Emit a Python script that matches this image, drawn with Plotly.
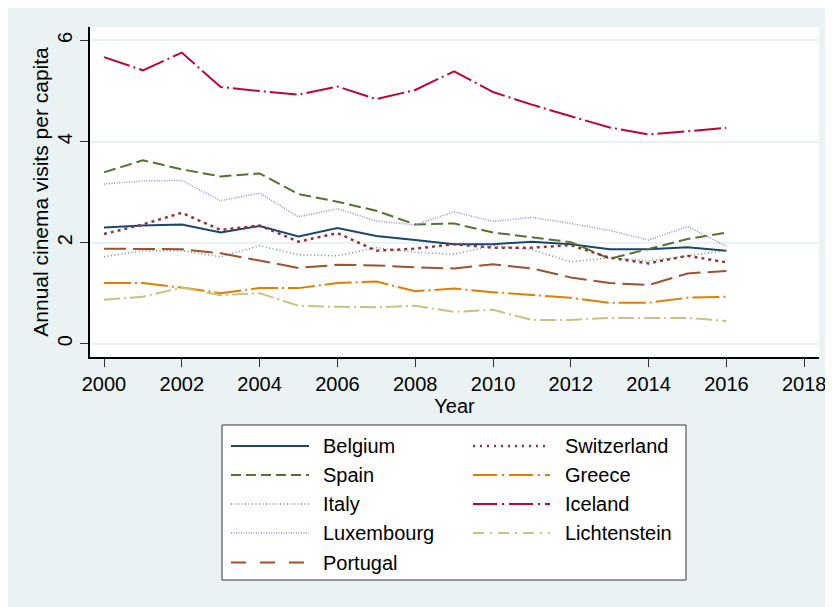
import plotly.graph_objects as go

# ---------------- data ----------------
years = list(range(2000, 2017))

belgium      = [2.30, 2.34, 2.36, 2.20, 2.33, 2.12, 2.29, 2.13, 2.05, 1.97, 1.97, 2.02, 1.97, 1.87, 1.87, 1.91, 1.84]
spain        = [3.39, 3.63, 3.45, 3.31, 3.37, 2.96, 2.81, 2.63, 2.36, 2.38, 2.20, 2.11, 2.01, 1.68, 1.87, 2.07, 2.20]
italy        = [1.72, 1.84, 1.84, 1.72, 1.94, 1.76, 1.74, 1.90, 1.81, 1.77, 1.94, 1.86, 1.62, 1.70, 1.64, 1.74, 1.84]
luxembourg   = [3.16, 3.22, 3.23, 2.83, 2.98, 2.51, 2.67, 2.43, 2.35, 2.61, 2.42, 2.50, 2.38, 2.24, 2.05, 2.32, 1.93]
portugal     = [1.88, 1.88, 1.87, 1.79, 1.64, 1.50, 1.56, 1.55, 1.51, 1.49, 1.57, 1.49, 1.31, 1.20, 1.16, 1.39, 1.44]
switzerland  = [2.17, 2.36, 2.59, 2.25, 2.34, 2.02, 2.19, 1.84, 1.88, 1.97, 1.90, 1.90, 1.95, 1.70, 1.59, 1.74, 1.61]
greece       = [1.20, 1.20, 1.11, 1.00, 1.10, 1.10, 1.20, 1.23, 1.04, 1.09, 1.02, 0.96, 0.91, 0.81, 0.81, 0.91, 0.93]
iceland      = [5.67, 5.41, 5.76, 5.08, 5.00, 4.93, 5.09, 4.84, 5.02, 5.39, 4.98, 4.73, 4.50, 4.28, 4.14, 4.21, 4.27]
lichtenstein = [0.87, 0.93, 1.11, 0.96, 1.00, 0.75, 0.73, 0.72, 0.75, 0.63, 0.67, 0.47, 0.47, 0.51, 0.51, 0.51, 0.45]

countries = ["Belgium", "Spain", "Italy", "Luxembourg", "Portugal",
             "Switzerland", "Greece", "Iceland", "Lichtenstein"]
values = [belgium, spain, italy, luxembourg, portugal,
          switzerland, greece, iceland, lichtenstein]

x_ticks = list(range(2000, 2019, 2))
y_ticks = [0, 2, 4, 6]

# ---------------- styles ----------------
colors = ["#1a476f", "#55752f", "#6e8e84", "#938dd2", "#a0522d",
          "#90353b", "#e37e00", "#c10534", "#cac27e"]
dashes = ["solid", "12px,5px", "1px,2.5px", "1px,1.5px", "22px,7px",
          "3px,4px", "27px,4px,2px,4px", "27px,4px,2px,4px", "16px,4px,2px,4px"]
leg_dashes = ["solid", "10px,5px", "1px,2.5px", "1px,1.5px", "15px,14px",
              "2px,5px", "24px,5px,2px,5px", "24px,5px,2px,5px", "11px,6px,2px,6px"]
widths = [2, 2, 1.5, 1.5, 2, 2.5, 2, 2, 2]

FONT = "Liberation Sans, Arial, sans-serif"
BG = "#eaf2f3"

W, H = 833, 607
OFF = 8  # page body margin
# plot area edges in page pixels
L, R, T, B = 90, 819, 27, 357
pw, ph = R - L, B - T


def px(xp):
    return (xp - L) / pw


def py(yp):
    return (B - yp) / ph


fig = go.Figure()
for name, vals, c, d, w in zip(countries, values, colors, dashes, widths):
    fig.add_trace(go.Scatter(x=years, y=vals, mode="lines", name=name,
                             line=dict(color=c, dash=d, width=w),
                             showlegend=False))

shapes = []
# legend box
shapes.append(dict(type="rect", xref="paper", yref="paper", layer="below",
                   x0=px(222), x1=px(686), y0=py(580), y1=py(425),
                   fillcolor="white", line=dict(color="#333333", width=1)))

annotations = []
row_y = [446, 475, 504, 533, 562.5]
for i, (name, c, d, w) in enumerate(zip(countries, colors, leg_dashes, widths)):
    col = 0 if i < 5 else 1
    r = i if i < 5 else i - 5
    yv = row_y[r]
    x0, x1, xt = (231, 309, 321) if col == 0 else (473, 550, 563)
    shapes.append(dict(type="line", xref="paper", yref="paper", layer="above",
                       x0=px(x0), x1=px(x1), y0=py(yv), y1=py(yv),
                       line=dict(color=c, dash=d, width=w)))
    annotations.append(dict(xref="paper", yref="paper", x=px(xt), y=py(yv),
                            text=name, showarrow=False, xanchor="left",
                            yanchor="middle",
                            font=dict(family=FONT, size=20, color="black")))

fig.update_layout(
    width=W, height=H,
    margin=dict(l=L - OFF, r=W - (R - OFF), t=T - OFF, b=H - (B - OFF), pad=0),
    paper_bgcolor=BG, plot_bgcolor="white",
    shapes=shapes, annotations=annotations,
    font=dict(family=FONT, size=20, color="black"),
    xaxis=dict(range=[1999.64, 2018.38], tickvals=x_ticks,
               ticktext=[str(v) for v in x_ticks],
               showgrid=False, zeroline=False, showline=True,
               linecolor="black", linewidth=1.5, ticks="outside",
               ticklen=8, tickcolor="#333333", tickwidth=1.2,
               tickfont=dict(family=FONT, size=20, color="black"),
               title=dict(text="Year", standoff=0,
                          font=dict(family=FONT, size=20, color="black"))),
    yaxis=dict(range=[-0.263, 6.267], tickvals=y_ticks,
               ticktext=[str(v) for v in y_ticks],
               showgrid=True, gridcolor=BG, gridwidth=1.5,
               zeroline=False, showline=True,
               linecolor="black", linewidth=1.5, ticks="outside",
               ticklen=8, tickcolor="#333333", tickwidth=1.2, tickangle=-90,
               tickfont=dict(family=FONT, size=20, color="black"),
               title=dict(text="Annual cinema visits per capita", standoff=0,
                          font=dict(family=FONT, size=21, color="black"))),
)

fig.write_html("out.html")
